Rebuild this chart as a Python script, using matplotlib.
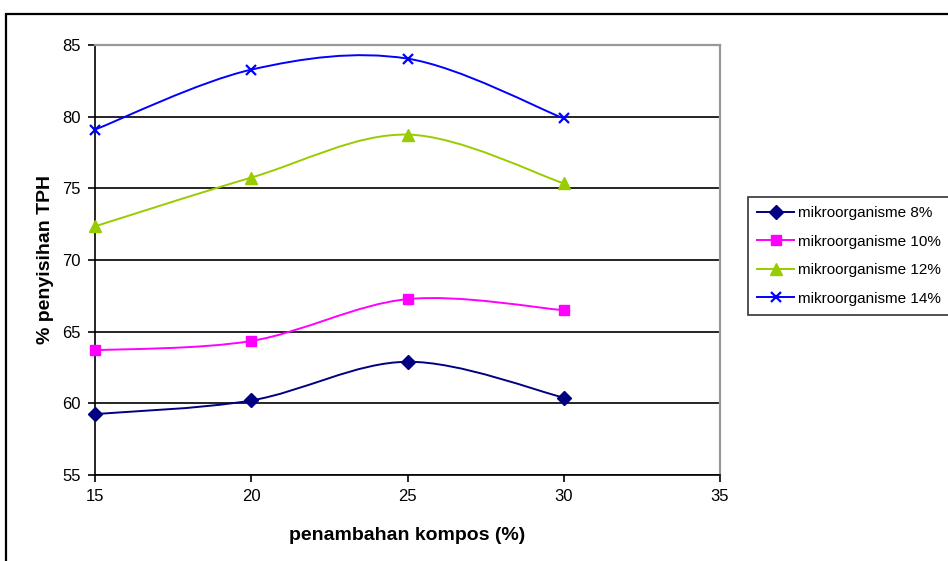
import matplotlib
matplotlib.use("Agg")
import matplotlib.pyplot as plt
import numpy as np
from matplotlib.path import Path
from matplotlib.patches import PathPatch, Rectangle
from matplotlib.lines import Line2D

plt.rcParams.update({
    "font.family": ["Liberation Sans", "DejaVu Sans"],
    "font.size": 12,
})

# ── Data ──────────────────────────────────────────────────────────────────────
kompos = [15, 20, 25, 30]
mikro_8 = [59.25, 60.2, 62.9, 60.4]
mikro_10 = [63.7, 64.35, 67.27, 66.5]
mikro_12 = [72.35, 75.75, 78.75, 75.35]
mikro_14 = [79.1, 83.28, 84.05, 79.88]

series = [
    ("mikroorganisme 8%", mikro_8, "#000080", "D", 7),
    ("mikroorganisme 10%", mikro_10, "#FF00FF", "s", 7),
    ("mikroorganisme 12%", mikro_12, "#99CC00", "^", 8),
    ("mikroorganisme 14%", mikro_14, "#0000FF", "x", 7),
]


def smooth_path(x, y):
    # Excel-like smoothed line: cubic Bezier through the data points
    pts = np.column_stack([x, y]).astype(float)
    n = len(pts)
    verts = [pts[0]]
    codes = [Path.MOVETO]
    for i in range(n - 1):
        p0 = pts[max(i - 1, 0)]
        p1 = pts[i]
        p2 = pts[i + 1]
        p3 = pts[min(i + 2, n - 1)]
        c1 = p1 + (p2 - p0) / 6.0
        c2 = p2 - (p3 - p1) / 6.0
        verts += [c1, c2, p2]
        codes += [Path.CURVE4] * 3
    return Path(verts, codes)


fig = plt.figure(figsize=(9.48, 5.61), dpi=100)

# outer chart frame (runs past the right and bottom edges)
fig.patches.append(Rectangle((6 / 948, -0.05), 1.2, 1 - 14 / 561 + 0.05,
                             transform=fig.transFigure, fill=False,
                             edgecolor="black", linewidth=1.6, zorder=0))

ax = fig.add_axes([95 / 948, 1 - 475 / 561, 625 / 948, 430 / 561])

for label, vals, color, marker, ms in series:
    ax.add_patch(PathPatch(smooth_path(kompos, vals), facecolor="none",
                           edgecolor=color, linewidth=1.4, zorder=3))
    ax.plot(kompos, vals, linestyle="none", marker=marker, color=color,
            markersize=ms, markeredgewidth=1.6 if marker == "x" else 1,
            zorder=4, clip_on=False)

ax.set_xlim(15, 35)
ax.set_ylim(55, 85)
ax.set_xticks([15, 20, 25, 30, 35])
ax.set_yticks([55, 60, 65, 70, 75, 80, 85])
ax.yaxis.grid(True, color="black", linewidth=1.2)
ax.set_axisbelow(True)

ax.spines["left"].set_color("black")
ax.spines["bottom"].set_color("black")
ax.spines["left"].set_linewidth(1.2)
ax.spines["bottom"].set_linewidth(1.2)
ax.spines["top"].set_color("#999999")
ax.spines["right"].set_color("#999999")
ax.spines["top"].set_linewidth(1.6)
ax.spines["right"].set_linewidth(1.6)
ax.tick_params(direction="out", length=5, width=1.2, labelsize=12, pad=5)

ax.set_xlabel("penambahan kompos (%)", fontsize=14, fontweight="bold", labelpad=17)
ax.set_ylabel("% penyisihan TPH", fontsize=14, fontweight="bold", labelpad=6)

handles = [Line2D([0], [0], color=c, marker=m, markersize=ms, linewidth=1.4,
                  markeredgewidth=1.6 if m == "x" else 1)
           for _, _, c, m, ms in series]
leg = fig.legend(handles, [s[0] for s in series], loc="upper left",
                 bbox_to_anchor=(748 / 948, 1 - 197 / 561), fontsize=11,
                 frameon=True, fancybox=False, handlelength=2.4,
                 handletextpad=0.25, borderpad=0.6, labelspacing=0.95,
                 borderaxespad=0)
leg.get_frame().set_edgecolor("black")
leg.get_frame().set_linewidth(1.2)

fig.savefig("out.png", dpi=100)
